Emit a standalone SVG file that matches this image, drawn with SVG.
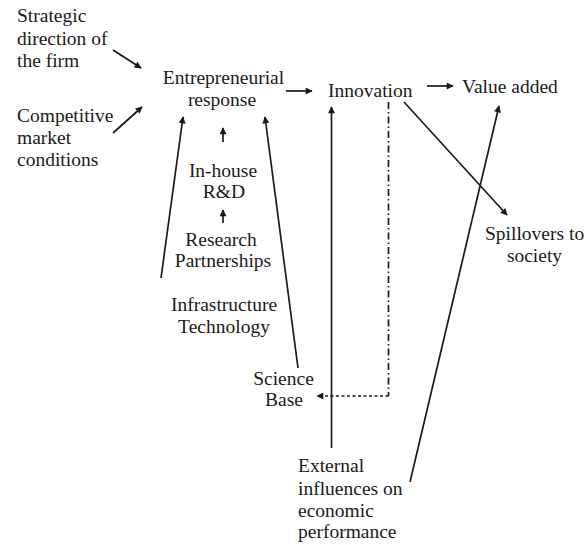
<svg xmlns="http://www.w3.org/2000/svg" width="587" height="545" viewBox="0 0 587 545">
<style>
text{font-size:19.5px;fill:#1a1a1a}
.c{text-anchor:middle}
.ln{stroke:#1a1a1a;stroke-width:1.7;fill:none}
.dd{stroke-dasharray:7 3 1.5 3}
.dt{stroke-dasharray:3 2.5}
</style>
<defs>
<marker id="ah" viewBox="0 0 10 10" refX="9" refY="5" markerWidth="9" markerHeight="7" markerUnits="userSpaceOnUse" orient="auto">
<path d="M0,0 L10,5 L0,10 Z" fill="#1a1a1a"/>
</marker>
</defs>
<rect width="587" height="545" fill="#fff"/>
<g id="connectors">
<line class="ln" x1="113" y1="50" x2="141" y2="68" marker-end="url(#ah)"/>
<line class="ln" x1="113" y1="133" x2="142" y2="107" marker-end="url(#ah)"/>
<line class="ln" x1="286" y1="91" x2="312" y2="91" marker-end="url(#ah)"/>
<line class="ln" x1="427" y1="86" x2="453" y2="86" marker-end="url(#ah)"/>
<line class="ln" x1="161" y1="278" x2="183" y2="117" marker-end="url(#ah)"/>
<line class="ln" x1="298" y1="368" x2="265" y2="117" marker-end="url(#ah)"/>
<line class="ln" x1="223" y1="142" x2="223" y2="128" marker-end="url(#ah)"/>
<line class="ln" x1="223" y1="223" x2="223" y2="210" marker-end="url(#ah)"/>
<line class="ln" x1="331.5" y1="448" x2="331.5" y2="107" marker-end="url(#ah)"/>
<line class="ln" x1="404" y1="102" x2="507" y2="215" marker-end="url(#ah)"/>
<line class="ln" x1="410" y1="482" x2="499" y2="106" marker-end="url(#ah)"/>
<line class="ln dd" x1="388.5" y1="102" x2="388.5" y2="396"/>
<line class="ln dt" x1="388.5" y1="396" x2="317" y2="396" marker-end="url(#ah)"/>
</g>
<g font-family="Times New Roman, Liberation Serif, DejaVu Serif, serif">
<g id="strategic"><text x="17" y="22">Strategic</text><text x="17" y="45">direction of</text><text x="17" y="67">the firm</text></g>
<g id="competitive"><text x="17" y="122">Competitive</text><text x="17" y="144">market</text><text x="17" y="166">conditions</text></g>
<g id="entrepreneurial"><text class="c" x="223.5" y="84">Entrepreneurial</text><text class="c" x="222" y="106">response</text></g>
<g id="innovation"><text x="328" y="97">Innovation</text></g>
<g id="value-added"><text x="462" y="93">Value added</text></g>
<g id="spillovers"><text x="485" y="240">Spillovers to</text><text class="c" x="534.5" y="262">society</text></g>
<g id="inhouse"><text class="c" x="223" y="177">In-house</text><text class="c" x="224" y="198">R&amp;D</text></g>
<g id="research"><text class="c" x="221" y="246">Research</text><text class="c" x="223" y="267">Partnerships</text></g>
<g id="infrastructure"><text class="c" x="224" y="311">Infrastructure</text><text class="c" x="224" y="333">Technology</text></g>
<g id="science"><text class="c" x="283.5" y="385">Science</text><text class="c" x="284" y="406">Base</text></g>
<g id="external"><text x="298" y="472">External</text><text x="298" y="495">influences on</text><text x="298" y="517">economic</text><text x="298" y="538">performance</text></g>
</g>
</svg>
